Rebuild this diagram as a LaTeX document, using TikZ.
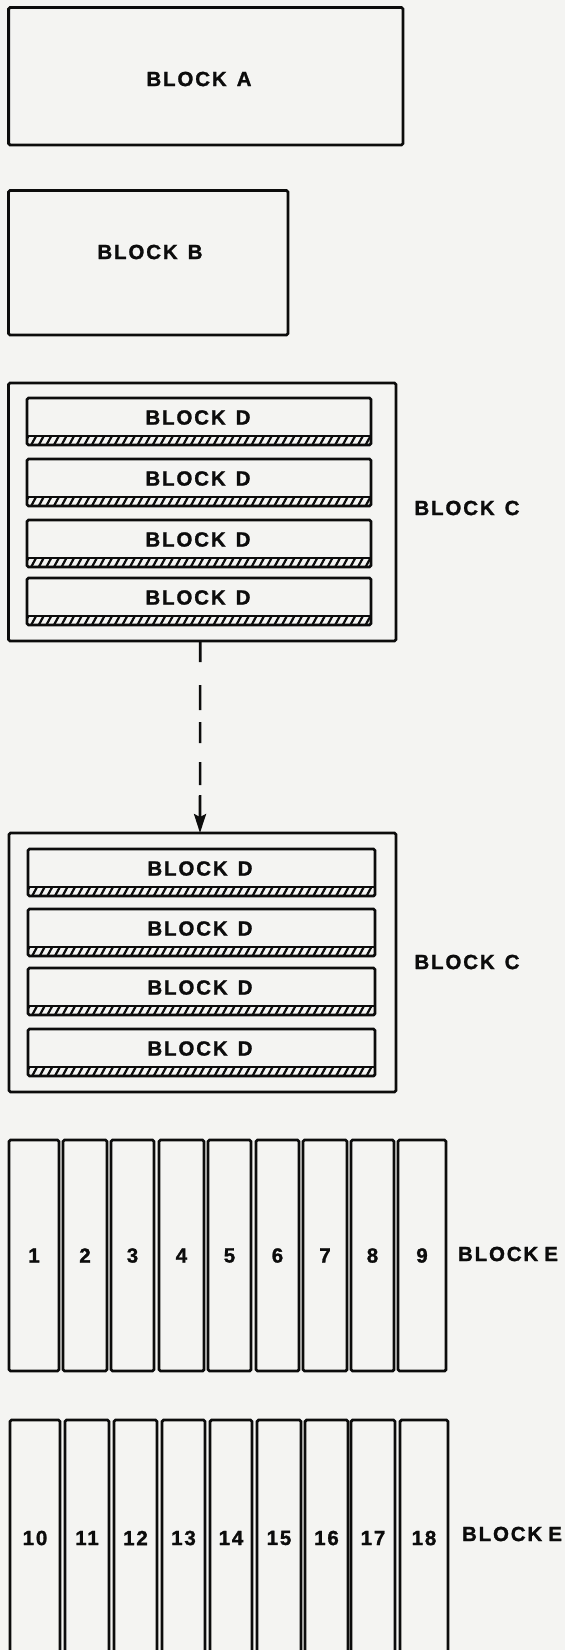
\documentclass[tikz,border=0pt]{standalone}
\usepackage{fontspec}
\setmainfont{Liberation Sans}
\newfontfamily\lblfont{Liberation Sans}[LetterSpace=9, BoldFeatures={FakeBold=1.3}]
\usetikzlibrary{arrows.meta}
\definecolor{paper}{RGB}{244,244,242}
\definecolor{ink}{RGB}{12,12,12}
\newcommand\myDblock[6]{%
  \pgfmathsetmacro\dcx{(#2+#3)/2}\pgfmathsetmacro\dcy{(#4+#5)/2}%
  \pgfmathsetmacro\dw{#3-#2}\pgfmathsetmacro\dh{#5-#4}%
  \node[dbox, minimum width=\dw pt, minimum height=\dh pt] (#1) at (\dcx,\dcy) {};
  \begin{scope}
    \clip (#2,#5-9) rectangle (#3,#5);
    \foreach \k in {0,...,50} \draw[hatch] (#2-4+\k*7.6,#5+1) -- ++(6,-11);
  \end{scope}
  \draw[dbox] (#2,#5-9) -- (#3,#5-9);
  \node[lab] (#1l) at (#6,#4+19.5) {BLOCK\hspace{10pt}D};
}
\newcommand\myEcol[6]{%
  \pgfmathsetmacro\ecx{(#2+#3)/2}\pgfmathsetmacro\ecy{(#4+#5)/2}%
  \pgfmathsetmacro\ew{#3-#2}\pgfmathsetmacro\eh{#5-#4}%
  \node[blk, lab, minimum width=\ew pt, minimum height=\eh pt] (#1) at (\ecx,\ecy) {#6};
}
\begin{document}
\begin{tikzpicture}[x=1pt,y=-1pt,
  blk/.style={draw=ink, line width=2.8pt, rounded corners=1.5pt, inner sep=0pt, outer sep=0pt},
  dbox/.style={draw=ink, line width=2.6pt, rounded corners=1.5pt, inner sep=0pt, outer sep=0pt},
  lab/.style={text=ink, inner sep=0pt, font=\lblfont\bfseries\fontsize{20.5}{21}\selectfont},
  hatch/.style={draw=ink, line width=2.2pt},
  flow/.style={draw=ink, line width=2.6pt,
    dash pattern=on 21pt off 23pt on 25pt off 12pt on 21pt off 19pt on 23pt off 10pt on 200pt,
    -{Stealth[length=19pt,width=12pt,inset=3pt]}}]
\useasboundingbox (0,0) rectangle (565,1650);
\fill[paper] (0,0) rectangle (565,1650);
\clip (0,0) rectangle (565,1650);

% Block A
\node[blk, minimum width=394.4pt, minimum height=137.5pt] (A) at (205.8,76.25) {};
\node[lab] (Al) at (199,79) {BLOCK\hspace{10pt}A};

% Block B
\node[blk, minimum width=279.5pt, minimum height=144.5pt] (B) at (148.25,262.75) {};
\node[lab] (Bl) at (150,252) {BLOCK\hspace{10pt}B};

% Block C (upper)
\node[blk, minimum width=387.5pt, minimum height=258pt] (C1) at (202.25,512) {};
\node[lab] (C1l) at (467,508) {BLOCK\hspace{10pt}C};
\myDblock{Da1}{27}{371}{398}{445}{198}
\myDblock{Da2}{27}{371}{459}{506}{198}
\myDblock{Da3}{27}{371}{520}{567}{198}
\myDblock{Da4}{27}{371}{578}{625}{198}

% Block C (lower)
\node[blk, minimum width=387pt, minimum height=259pt] (C2) at (202.5,962.5) {};
\node[lab] (C2l) at (467,962) {BLOCK\hspace{10pt}C};
\myDblock{Db1}{28}{375}{849}{896}{200}
\myDblock{Db2}{28}{375}{909}{956}{200}
\myDblock{Db3}{28}{375}{968}{1015}{200}
\myDblock{Db4}{28}{375}{1029}{1076}{200}

% dashed arrow
\draw[flow] ([xshift=-2pt]C1.south) -- ([xshift=-2.5pt]C2.north);

% Block E row 1
\myEcol{e1}{9}{59}{1140}{1371}{1}
\myEcol{e2}{63}{107}{1140}{1371}{2}
\myEcol{e3}{111}{154}{1140}{1371}{3}
\myEcol{e4}{159}{204}{1140}{1371}{4}
\myEcol{e5}{208}{251}{1140}{1371}{5}
\myEcol{e6}{256}{299}{1140}{1371}{6}
\myEcol{e7}{303}{347}{1140}{1371}{7}
\myEcol{e8}{351}{394}{1140}{1371}{8}
\myEcol{e9}{398}{446}{1140}{1371}{9}
\node[lab] (E1l) at (508,1254) {BLOCK\hspace{6pt}E};

% Block E row 2
\myEcol{e10}{10}{60}{1420}{1656}{10}
\myEcol{e11}{65}{109}{1420}{1656}{11}
\myEcol{e12}{114}{157}{1420}{1656}{12}
\myEcol{e13}{162}{205}{1420}{1656}{13}
\myEcol{e14}{210}{252}{1420}{1656}{14}
\myEcol{e15}{257}{301}{1420}{1656}{15}
\myEcol{e16}{305}{348}{1420}{1656}{16}
\myEcol{e17}{351}{395}{1420}{1656}{17}
\myEcol{e18}{400}{448}{1420}{1656}{18}
\node[lab] (E2l) at (512,1534) {BLOCK\hspace{6pt}E};
\end{tikzpicture}
\end{document}
